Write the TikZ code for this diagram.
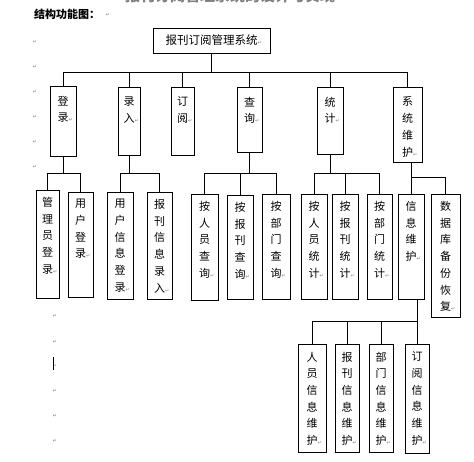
\documentclass[tikz,border=0pt]{standalone}
\usepackage{fontspec}
\setmainfont{Noto Sans CJK SC}
\newfontfamily\dvfont{DejaVu Sans}
\newcommand\parmk{{\dvfont\fontsize{5}{5}\selectfont\color{gray}↵}}
\newcommand\pmk{\rlap{\parmk}}
\newcommand\bx[6]{%
  \node[box,minimum width={#4-#2},minimum height={#5-#3}] (#1) at ({(#2+#4)/2},{(#3+#5)/2}) {};%
  \node[lbl,anchor=north] (#1t) at ([yshift=-#6pt]#1.north) {\csname txt#1\endcsname};}
\begin{document}
\begin{tikzpicture}[x=1pt,y=-1pt,
  box/.style={draw,line width=0.8pt,inner sep=0pt},
  lbl/.style={inner sep=0pt,align=center,font=\fontsize{11}{16.7}\selectfont},
  ln/.style={line width=0.8pt},
  mk/.style={inner sep=0pt,font=\dvfont\fontsize{5}{5}\selectfont,text=gray}]
\useasboundingbox (0,0) rectangle (474,462);
% title (cut off) and heading
\node[anchor=base,inner sep=0pt,font=\bfseries\fontsize{15}{15}\selectfont,text=gray] (tt) at (230,2) {报刊订阅管理系统的设计与实现};
\node[anchor=west,inner sep=0pt,font=\bfseries\fontsize{11}{11}\selectfont] (hd) at (34,14) {结构功能图：};
\node[mk] (m0) at (108,15) {↵};
% paragraph marks
\foreach \y [count=\i] in {42,67,92,117,142,167} \node[mk] (ma\i) at (35,\y) {↵};
\foreach \y [count=\i] in {316,342,366,391,416,441} \node[mk] (mb\i) at (55,\y) {↵};
\draw[line width=0.8pt] (53,357) -- (53,370);
% texts
\def\txtroot{}
\def\txtdl{登\\录\pmk}
\def\txtlr{录\\入\pmk}
\def\txtdy{订\\阅\pmk}
\def\txtcx{查\\询\pmk}
\def\txttj{统\\计\pmk}
\def\txtxt{系\\统\\维\\护\pmk}
\def\txtgl{管\\理\\员\\登\\录\pmk}
\def\txtyh{用\\户\\登\\录\pmk}
\def\txtyx{用\\户\\信\\息\\登\\录\pmk}
\def\txtbk{报\\刊\\信\\息\\录\\入\pmk}
\def\txtca{按\\人\\员\\查\\询\pmk}
\def\txtcb{按\\报\\刊\\查\\询\pmk}
\def\txtcc{按\\部\\门\\查\\询\pmk}
\def\txtta{按\\人\\员\\统\\计\pmk}
\def\txttb{按\\报\\刊\\统\\计\pmk}
\def\txttc{按\\部\\门\\统\\计\pmk}
\def\txtxw{信\\息\\维\\护\pmk}
\def\txtdb{数\\据\\库\\备\\份\\恢\\复\pmk}
\def\txtwa{人\\员\\信\\息\\维\\护\pmk}
\def\txtwb{报\\刊\\信\\息\\维\\护\pmk}
\def\txtwc{部\\门\\信\\息\\维\\护\pmk}
\def\txtwd{订\\阅\\信\\息\\维\\护\pmk}
% root
\node[box,minimum width=117,minimum height=25,font=\fontsize{11.5}{12}\selectfont] (root) at (211.5,40.5) {报刊订阅管理系统\pmk};
% level 1
\bx{dl}{50}{86}{76}{156}{10}
\bx{lr}{118}{87}{140}{155}{10}
\bx{dy}{171}{87}{194}{155}{10}
\bx{cx}{237}{87}{262}{152}{10}
\bx{tj}{317}{87}{343}{154}{10}
\bx{xt}{393}{87}{422}{162}{10}
% level 2
\bx{gl}{36}{190}{59}{298}{7.5}
\bx{yh}{68}{192}{93}{297}{7.5}
\bx{yx}{107}{192}{133}{299}{7.5}
\bx{bk}{147}{192}{172}{299}{7.5}
\bx{ca}{191}{194}{218}{300}{7.5}
\bx{cb}{227}{195}{253}{299}{7.5}
\bx{cc}{262}{194}{290}{299}{7.5}
\bx{ta}{301}{194}{327}{299}{7.5}
\bx{tb}{332}{194}{358}{299}{7.5}
\bx{tc}{367}{194}{392}{299}{7.5}
\bx{xw}{398}{194}{424}{299}{7.5}
\bx{db}{431}{194}{460}{317}{7.5}
% level 3
\bx{wa}{298}{344}{326}{452}{8}
\bx{wb}{335}{344}{359}{452}{8}
\bx{wc}{369}{344}{393}{452}{8}
\bx{wd}{405}{344}{429}{453}{8}
% connectors level 1
\coordinate (b0) at (0,72);
\draw[ln] (root.south) -- (root.south |- b0);
\draw[ln] (dl.north |- b0) -- (xt.north |- b0);
\foreach \n in {dl,lr,dy,cx,tj,xt} \draw[ln] (\n.north) -- (\n.north |- b0);
% connectors level 2
\coordinate (b1) at (0,173);
\foreach \p/\a/\b/\c in {dl/gl/yh/yh,lr/yx/bk/bk,cx/ca/cb/cc,tj/ta/tb/tc}{
  \draw[ln] (\p.south) -- (\p.south |- b1);
  \draw[ln] (\a.north |- b1) -- (\c.north |- b1);
  \foreach \k in {\a,\b,\c} \draw[ln] (\k.north) -- (\k.north |- b1);
}
\coordinate (b2) at (0,177);
\draw[ln] (xw.north |- xt.south) -- (xw.north);
\draw[ln] (xw.north |- b2) -- (db.north |- b2) -- (db.north);
% connectors level 3
\coordinate (b3) at (0,321);
\draw[ln] (wd.north |- xw.south) -- (wd.north);
\draw[ln] (wa.north |- b3) -- (wd.north |- b3);
\foreach \k in {wa,wb,wc} \draw[ln] (\k.north) -- (\k.north |- b3);
\end{tikzpicture}
\end{document}
